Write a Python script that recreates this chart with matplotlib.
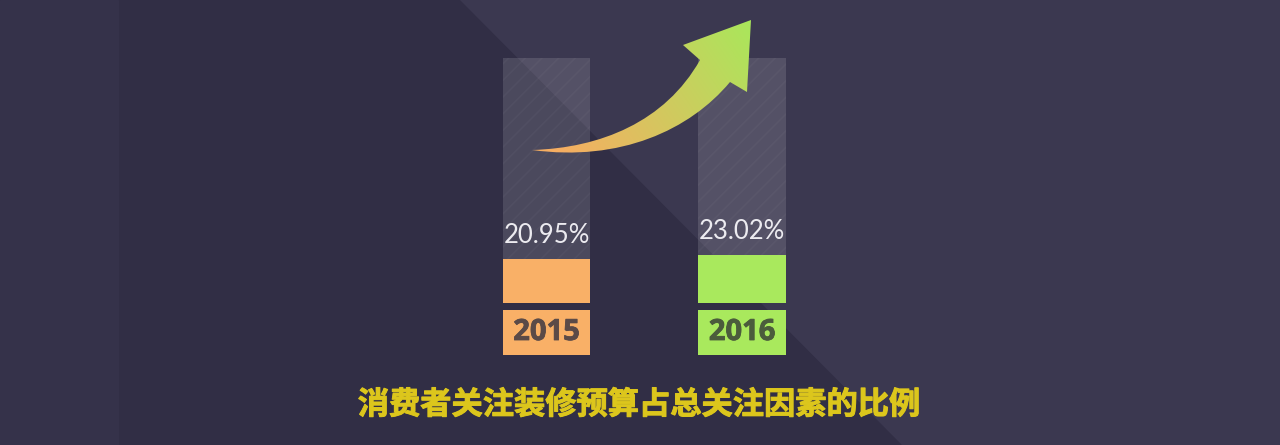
import numpy as np
import matplotlib
matplotlib.use("Agg")
import matplotlib.pyplot as plt
from matplotlib.patches import Rectangle, Polygon, PathPatch
from matplotlib.path import Path
import matplotlib.colors as mcolors
import matplotlib.patheffects as pe

# ---------------- data ----------------
years = ["2015", "2016"]
shares = [20.95, 23.02]
value_labels = ["20.95%", "23.02%"]
title = "消费者关注装修预算占总关注因素的比例"

# ---------------- style ----------------
W, H = 1280, 445
BG_MAIN = "#312e45"
BG_LEFT = "#35324a"
BG_DIAG = "#3b3850"
bar_colors = ["#f9b067", "#a9e95d"]
year_text_colors = ["#5b4a47", "#4b5c3c"]
TITLE_COLOR = "#dcc61c"

fig = plt.figure(figsize=(W / 100, H / 100), dpi=100)
fig.patch.set_facecolor(BG_MAIN)

# background canvas in pixel coordinates
bg = fig.add_axes([0, 0, 1, 1])
bg.set_xlim(0, W)
bg.set_ylim(H, 0)
bg.axis("off")
bg.set_zorder(0)
bg.add_patch(Rectangle((0, 0), W, H, color=BG_MAIN, zorder=0))
bg.add_patch(Rectangle((0, 0), 118, H, color=BG_LEFT, zorder=0.5))
bg.add_patch(Polygon([(460, 0), (W, 0), (W, H), (902, H)], closed=True,
                     color=BG_DIAG, lw=0, zorder=0.6))

# ---------------- bars ----------------
PX_LEFT, PX_RIGHT = 490, 800
PX_TOP, PX_BASE, PX_BOTTOM = 58, 303, 355
PX_YEAR_TOP = 310
CENTER0, CENTER1 = 546.5, 742.0
k = 2.1  # pixels per percentage point
step = CENTER1 - CENTER0

ax = fig.add_axes([PX_LEFT / W, (H - PX_BOTTOM) / H,
                   (PX_RIGHT - PX_LEFT) / W, (PX_BOTTOM - PX_TOP) / H])
ax.set_xlim(-(CENTER0 - PX_LEFT) / step, 1 + (PX_RIGHT - CENTER1) / step)
ymin = -(PX_BOTTOM - PX_BASE) / k
ymax = (PX_BASE - PX_TOP) / k
ax.set_ylim(ymin, ymax)
ax.axis("off")
ax.patch.set_alpha(0)
ax.set_zorder(1)

x = np.arange(len(years))
bw = 87.5 / step
track = [ymax] * len(years)
ax.bar(x, track, width=bw, bottom=0, color=(1, 1, 1, 0.13), lw=0, zorder=1)
plt.rcParams["hatch.linewidth"] = 1.2
ax.bar(x, track, width=bw, bottom=0, facecolor="none",
       edgecolor=(1, 1, 1, 0.03), hatch="//", lw=0, zorder=1.1)
ax.bar(x, shares, width=bw, bottom=0, color=bar_colors, lw=0, zorder=2)

year_bottom = ymin
year_top = -(PX_YEAR_TOP - PX_BASE) / k
ax.bar(x, [year_top - year_bottom] * len(years), width=bw, bottom=year_bottom,
       color=bar_colors, lw=0, zorder=2)

for xi, v, lab, yr, tc in zip(x, shares, value_labels, years, year_text_colors):
    ax.annotate(lab, (xi, v), xytext=(0, 11.5), textcoords="offset points",
                ha="center", va="baseline", fontsize=18.5, color="#ecebf0",
                family="Lato", fontweight="normal", zorder=3)
    ax.text(xi, (year_top + year_bottom) / 2, yr, ha="center", va="center",
            fontsize=21, fontweight="bold", family="Open Sans", color=tc,
            zorder=3, path_effects=[pe.withStroke(linewidth=0.6, foreground=tc)])

# ---------------- curved gradient arrow (decoration, top layer) ----------------
top = fig.add_axes([0, 0, 1, 1])
top.set_xlim(0, W)
top.set_ylim(H, 0)
top.axis("off")
top.patch.set_alpha(0)
top.set_zorder(2)

verts = [(532, 150), (600, 148), (665, 122), (700, 60),
         (683, 45), (751, 20), (747, 92), (730, 82),
         (690, 130), (620, 162), (532, 150), (532, 150)]
codes = [Path.MOVETO, Path.CURVE4, Path.CURVE4, Path.CURVE4,
         Path.LINETO, Path.LINETO, Path.LINETO, Path.LINETO,
         Path.CURVE4, Path.CURVE4, Path.CURVE4, Path.CLOSEPOLY]
arrow_path = Path(verts, codes)
patch = PathPatch(arrow_path, facecolor="none", edgecolor="none")
top.add_patch(patch)

x0, x1, y0, y1 = 525, 760, 12, 165
gx = np.linspace(x0, x1, 300)
gy = np.linspace(y0, y1, 200)
GX, GY = np.meshgrid(gx, gy)
d = np.array([751 - 560, 20 - 150], dtype=float)
t = ((GX - 560) * d[0] + (GY - 150) * d[1]) / (d @ d)
t = np.clip(t, 0, 1)[..., None]
c0 = np.array(mcolors.to_rgb("#f6ae62"))
c1 = np.array(mcolors.to_rgb("#a9e75b"))
rgb = c0 * (1 - t) + c1 * t
im = top.imshow(rgb, extent=(x0, x1, y1, y0), origin="upper",
                aspect="auto", interpolation="bilinear")
im.set_clip_path(patch)
top.set_xlim(0, W)
top.set_ylim(H, 0)

# ---------------- title ----------------
top.text(639, 405, title, ha="center", va="center", fontsize=22.5,
         fontweight="heavy", color=TITLE_COLOR, family="Noto Sans CJK SC",
         path_effects=[pe.withStroke(linewidth=0.7, foreground=TITLE_COLOR)])

fig.savefig("out.png", dpi=100, facecolor=fig.get_facecolor())
